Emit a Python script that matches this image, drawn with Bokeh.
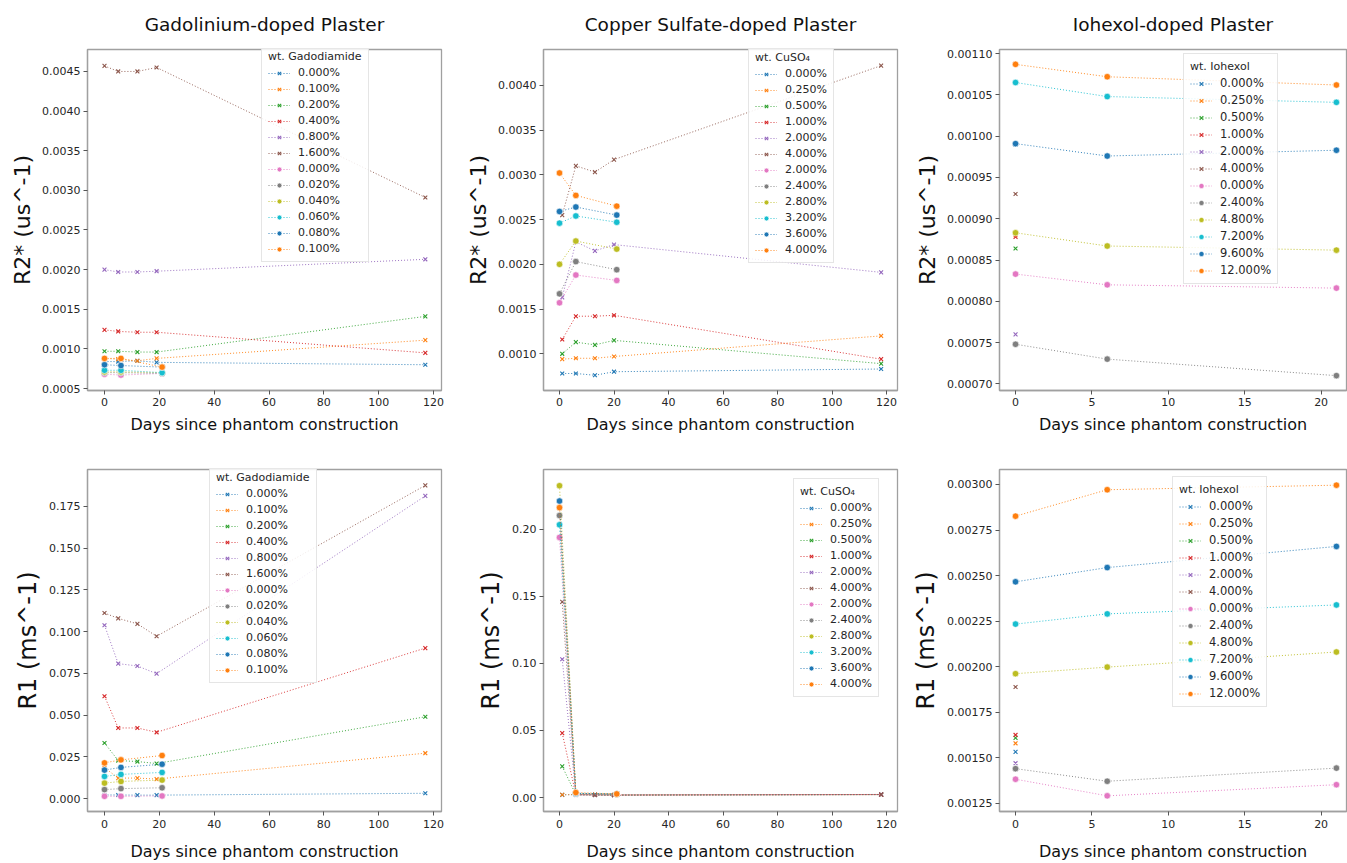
from bokeh.plotting import figure
from bokeh.layouts import column, row
from bokeh.models import Legend, LegendItem, FixedTicker, PrintfTickFormatter, Range1d
from bokeh.embed import file_html
from bokeh.resources import INLINE

# ---------------- data ----------------
TAB = ["#1f77b4", "#ff7f0e", "#2ca02c", "#d62728", "#9467bd", "#8c564b",
       "#e377c2", "#7f7f7f", "#bcbd22", "#17becf", "#1f77b4", "#ff7f0e"]

# Gadolinium-doped plaster
gd_x_days = [0, 5, 12, 19, 117]
gd_c_days = [0, 6, 21]
gd_x_labels = ["0.000%", "0.100%", "0.200%", "0.400%", "0.800%", "1.600%"]
gd_c_labels = ["0.000%", "0.020%", "0.040%", "0.060%", "0.080%", "0.100%"]
gd_r2_x = [
    [0.00084, 0.00084, 0.00085, 0.00083, 0.00080],
    [0.00088, 0.00087, 0.00085, 0.00088, 0.00111],
    [0.00097, 0.00097, 0.00096, 0.00096, 0.00141],
    [0.00124, 0.00122, 0.00121, 0.00121, 0.00095],
    [0.00200, 0.00197, 0.00197, 0.00198, 0.00213],
    [0.00457, 0.00450, 0.00450, 0.00455, 0.00291],
]
gd_r2_c = [
    [0.00068, 0.00067, 0.00069],
    [0.00070, 0.00070, 0.00069],
    [0.00071, 0.00071, 0.00070],
    [0.00073, 0.00073, 0.00070],
    [0.00080, 0.00079, 0.00077],
    [0.00088, 0.00088, 0.00077],
]
gd_r1_x = [
    [0.0022, 0.0022, 0.0021, 0.0021, 0.0032],
    [0.0185, 0.0123, 0.0123, 0.0117, 0.0272],
    [0.0333, 0.0228, 0.0222, 0.0210, 0.0490],
    [0.0613, 0.0423, 0.0423, 0.0397, 0.0901],
    [0.1038, 0.0808, 0.0794, 0.0748, 0.1812],
    [0.1111, 0.1079, 0.1046, 0.0972, 0.1875],
]
gd_r1_c = [
    [0.0014, 0.0014, 0.0016],
    [0.0054, 0.0060, 0.0065],
    [0.0093, 0.0103, 0.0111],
    [0.0133, 0.0145, 0.0157],
    [0.0171, 0.0187, 0.0206],
    [0.0214, 0.0232, 0.0258],
]

# Copper sulfate-doped plaster
cu_x_days = [1, 6, 13, 20, 118]
cu_c_days = [0, 6, 21]
cu_x_labels = ["0.000%", "0.250%", "0.500%", "1.000%", "2.000%", "4.000%"]
cu_c_labels = ["2.000%", "2.400%", "2.800%", "3.200%", "3.600%", "4.000%"]
cu_r2_x = [
    [0.00078, 0.00078, 0.00076, 0.00080, 0.00083],
    [0.00094, 0.00095, 0.00095, 0.00097, 0.00120],
    [0.00100, 0.00113, 0.00110, 0.00115, 0.00089],
    [0.00116, 0.00142, 0.00142, 0.00143, 0.00094],
    [0.00163, 0.00225, 0.00215, 0.00222, 0.00191],
    [0.00255, 0.00310, 0.00303, 0.00317, 0.00422],
]
cu_r2_c = [
    [0.00157, 0.00188, 0.00182],
    [0.00167, 0.00203, 0.00194],
    [0.00200, 0.00226, 0.00217],
    [0.00246, 0.00254, 0.00247],
    [0.00259, 0.00264, 0.00255],
    [0.00302, 0.00277, 0.00265],
]
cu_r1_x = [
    [0.0020, 0.0022, 0.0020, 0.0018, 0.0022],
    [0.0021, 0.0022, 0.0021, 0.0019, 0.0022],
    [0.0232, 0.0022, 0.0020, 0.0019, 0.0022],
    [0.0480, 0.0021, 0.0020, 0.0019, 0.0022],
    [0.1030, 0.0020, 0.0020, 0.0019, 0.0023],
    [0.1458, 0.0020, 0.0019, 0.0018, 0.0023],
]
cu_r1_c = [
    [0.1938, 0.0027, 0.0024],
    [0.2101, 0.0030, 0.0025],
    [0.2323, 0.0030, 0.0025],
    [0.2032, 0.0030, 0.0026],
    [0.2209, 0.0032, 0.0026],
    [0.2160, 0.0037, 0.0027],
]

# Iohexol-doped plaster
io_x_days = [0]
io_c_days = [0, 6, 21]
io_x_labels = ["0.000%", "0.250%", "0.500%", "1.000%", "2.000%", "4.000%"]
io_c_labels = ["0.000%", "2.400%", "4.800%", "7.200%", "9.600%", "12.000%"]
io_r2_x = [[0.00099], [0.00088], [0.000864], [0.000878], [0.00076], [0.00093]]
io_r2_c = [
    [0.000833, 0.000820, 0.000816],
    [0.000748, 0.000730, 0.000710],
    [0.000883, 0.000867, 0.000862],
    [0.001065, 0.001048, 0.001041],
    [0.000991, 0.000976, 0.000983],
    [0.001087, 0.001072, 0.001062],
]
io_r1_x = [[0.001533], [0.001580], [0.001610], [0.001626], [0.001471], [0.001889]]
io_r1_c = [
    [0.001383, 0.001292, 0.001353],
    [0.001441, 0.001372, 0.001444],
    [0.001962, 0.001998, 0.002081],
    [0.002234, 0.002290, 0.002339],
    [0.002466, 0.002544, 0.002660],
    [0.002826, 0.002971, 0.002996],
]

FONT = "DejaVu Sans"
TXT = "#262626"


def panel(title, ylabel, xr, yr, xticks, yticks, yfmt,
          x_days, x_vals, x_labels, c_days, c_vals, c_labels,
          legend_title, width, height, borders, leg_loc, ylab_size,
          leg_font="11px", leg_lh=12, xstand=(3, 6)):
    bl, br, bt, bb = borders
    p = figure(width=width, height=height, x_range=Range1d(*xr), y_range=Range1d(*yr),
               output_backend="svg", toolbar_location=None,
               min_border_left=bl, min_border_right=br, min_border_top=bt, min_border_bottom=bb,
               title=title)
    if title:
        p.title.text_font = FONT
        p.title.text_font_size = "18.5px"
        p.title.text_font_style = "normal"
        p.title.text_color = "#111111"
        p.title.align = "center"
        p.title.vertical_align = "top"
        p.title.standoff = 25
    p.xgrid.visible = False
    p.ygrid.visible = False
    p.outline_line_color = "#a0a0a0"
    p.outline_line_width = 1.3
    p.background_fill_color = "white"
    p.border_fill_color = "white"
    p.xaxis.ticker = FixedTicker(ticks=xticks)
    p.yaxis.ticker = FixedTicker(ticks=yticks)
    p.yaxis.formatter = PrintfTickFormatter(format=yfmt)
    for ax in (p.xaxis[0], p.yaxis[0]):
        ax.axis_line_color = "#a0a0a0"
        ax.axis_line_width = 1.3
        ax.major_tick_line_color = "#555555"
        ax.major_tick_out = 4
        ax.major_tick_in = 0
        ax.minor_tick_out = 0
        ax.minor_tick_in = 0
        ax.major_label_text_font = FONT
        ax.major_label_text_font_size = "11px"
        ax.major_label_text_color = TXT
        ax.major_label_standoff = 3
        ax.axis_label_text_font = FONT
        ax.axis_label_text_font_style = "normal"
        ax.axis_label_text_color = "#111111"
    p.xaxis.axis_label = "Days since phantom construction"
    p.xaxis.axis_label_text_font_size = "16px"
    p.xaxis.major_label_standoff = xstand[0]
    p.xaxis.axis_label_standoff = xstand[1]
    p.yaxis.axis_label = ylabel
    p.yaxis.axis_label_text_font_size = ylab_size
    p.yaxis.axis_label_standoff = 4

    items = []
    for i, (vals, lab) in enumerate(zip(x_vals, x_labels)):
        col = TAB[i]
        lr = p.line(x_days, vals, line_color=col, line_width=1, line_dash="1 2", line_alpha=0.9)
        sr = p.scatter(x_days, vals, marker="x", size=5.5, line_color=col, line_width=1.1)
        items.append(LegendItem(label=lab, renderers=[lr, sr]))
    for j, (vals, lab) in enumerate(zip(c_vals, c_labels)):
        col = TAB[6 + j]
        lr = p.line(c_days, vals, line_color=col, line_width=1, line_dash="1 2", line_alpha=0.9)
        sr = p.scatter(c_days, vals, marker="circle", size=6.5, fill_color=col,
                       line_color="white", line_width=0.6)
        items.append(LegendItem(label=lab, renderers=[lr, sr]))

    leg = Legend(items=items, location=leg_loc, title=legend_title)
    leg.title_text_font = FONT
    leg.title_text_font_size = "11px"
    leg.title_text_font_style = "normal"
    leg.title_text_color = TXT
    leg.title_standoff = 3
    leg.label_text_font = FONT
    leg.label_text_font_size = leg_font
    leg.label_text_color = TXT
    leg.glyph_width = 22
    leg.glyph_height = leg_lh
    leg.label_height = leg_lh
    leg.label_standoff = 8
    leg.spacing = 3
    leg.padding = 6
    leg.margin = 0
    leg.border_line_color = "#cccccc"
    leg.border_line_width = 1
    leg.background_fill_alpha = 0.85
    p.add_layout(leg)
    return p


x_big = list(range(0, 121, 20))
x_small = list(range(0, 21, 5))

f1 = panel("Gadolinium-doped Plaster", "R2* (us^-1)", (-6.2, 122.9), (0.000475, 0.004777),
           x_big, [round(0.0005 * k, 4) for k in range(1, 10)], "%.4f",
           gd_x_days, gd_r2_x, gd_x_labels, gd_c_days, gd_r2_c, gd_c_labels,
           "wt. Gadodiamide", 451, 436, (87, 10, 49, 44), (174, 128), "22px")
f2 = panel("Copper Sulfate-doped Plaster", "R2* (us^-1)", (-5.87, 124.0), (0.00059, 0.0044),
           x_big, [round(0.0005 * k, 4) for k in range(2, 9)], "%.4f",
           cu_x_days, cu_r2_x, cu_x_labels, cu_c_days, cu_r2_c, cu_c_labels,
           "wt. CuSO\u2084", 456, 436, (92, 10, 49, 44), (205, 127), "22px")
f3 = panel("Iohexol-doped Plaster", "R2* (us^-1)", (-1.05, 21.66), (0.000692, 0.001105),
           x_small, [round(0.00005 * k, 5) for k in range(14, 23)], "%.5f",
           io_x_days, io_r2_x, io_x_labels, io_c_days, io_r2_c, io_c_labels,
           "wt. Iohexol", 440, 436, (92, 1, 49, 44), (184, 106), "22px", "11.5px", 13)
f4 = panel(None, "R1 (ms^-1)", (-6.2, 122.9), (-0.0077, 0.197),
           x_big, [round(0.025 * k, 3) for k in range(0, 8)], "%.3f",
           gd_x_days, gd_r1_x, gd_x_labels, gd_c_days, gd_r1_c, gd_c_labels,
           "wt. Gadodiamide", 451, 427, (87, 10, 33, 50), (122, 128), "24px",
           xstand=(4, 11))
f5 = panel(None, "R1 (ms^-1)", (-5.87, 124.0), (-0.0104, 0.2444),
           x_big, [round(0.05 * k, 2) for k in range(0, 5)], "%.2f",
           cu_x_days, cu_r1_x, cu_x_labels, cu_c_days, cu_r1_c, cu_c_labels,
           "wt. CuSO\u2084", 456, 427, (92, 10, 33, 50), (250, 114), "24px",
           xstand=(4, 11))
f6 = panel(None, "R1 (ms^-1)", (-1.05, 21.66), (0.001206, 0.003082),
           x_small, [round(0.00025 * k, 5) for k in range(5, 13)], "%.5f",
           io_x_days, io_r1_x, io_x_labels, io_c_days, io_r1_c, io_c_labels,
           "wt. Iohexol", 440, 427, (92, 1, 33, 50), (173, 104), "24px", "11.5px", 13,
           xstand=(4, 11))

layout = column(row(f1, f2, f3), row(f4, f5, f6))
open("out.html", "w").write(file_html(layout, INLINE))
